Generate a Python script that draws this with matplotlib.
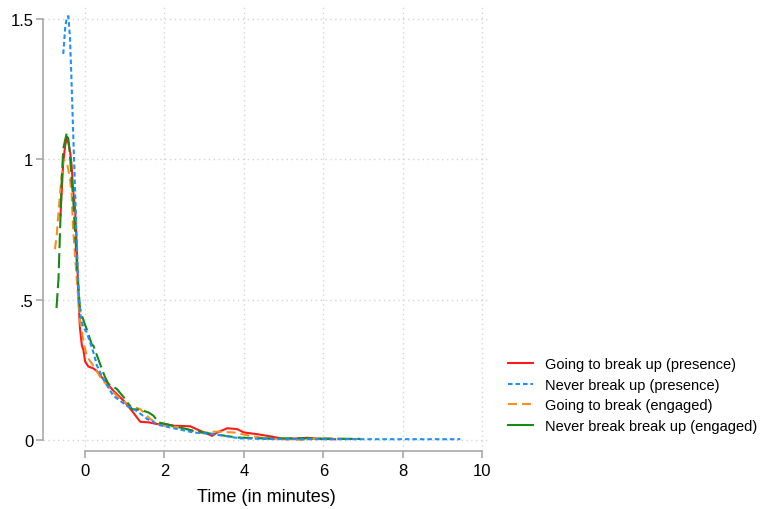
import matplotlib
matplotlib.use("Agg")
import matplotlib.pyplot as plt
from matplotlib.lines import Line2D

plt.rcParams["font.family"] = ["Liberation Sans", "DejaVu Sans"]

# Going to break up (presence)
red_x = [-0.62, -0.55, -0.5, -0.45, -0.38, -0.34, -0.3, -0.25, -0.21, -0.17, -0.13, -0.08,
         -0.04, 0.0, 0.08, 0.21, 0.3, 0.46, 0.71, 0.97, 1.18, 1.39, 1.6, 1.81, 1.98, 2.23,
         2.65, 2.9, 3.2, 3.33, 3.58, 3.83, 4.0, 4.33, 4.67, 5.0, 5.35, 5.6, 5.93, 6.3]
red_y = [0.80, 0.99, 1.05, 1.08, 1.03, 0.98, 0.89, 0.82, 0.69, 0.51, 0.40, 0.336,
         0.32, 0.28, 0.262, 0.255, 0.245, 0.217, 0.176, 0.14, 0.104, 0.065, 0.063, 0.057, 0.058, 0.051,
         0.049, 0.033, 0.015, 0.027, 0.042, 0.039, 0.027, 0.021, 0.013, 0.004, 0.006, 0.008, 0.004, 0.003]

# Never break up (presence)
blue_x = [-0.55, -0.5, -0.46, -0.42, -0.38, -0.34, -0.3, -0.25, -0.21, -0.17, -0.13, -0.08,
          -0.04, 0.04, 0.21, 0.3, 0.46, 0.71, 1.05, 1.3, 1.56, 1.89, 2.23, 2.73, 3.24, 3.9,
          4.5, 5.0, 6.0, 7.0, 8.0, 9.45]
blue_y = [1.375, 1.47, 1.506, 1.51, 1.43, 1.274, 1.095, 0.88, 0.70, 0.55, 0.456, 0.42,
          0.40, 0.384, 0.312, 0.265, 0.217, 0.158, 0.122, 0.104, 0.075, 0.053, 0.042, 0.027, 0.021, 0.006,
          0.004, 0.003, 0.003, 0.003, 0.003, 0.003]

# Going to break (engaged)
orange_x = [-0.76, -0.72, -0.67, -0.63, -0.55, -0.46, -0.38, -0.34, -0.3, -0.21, -0.13, -0.04,
            0.04, 0.13, 0.21, 0.38, 0.63, 0.88, 1.14, 1.39, 1.64, 1.89, 2.4, 2.9, 3.3, 3.75,
            4.17, 4.59, 5.0, 5.43, 6.0, 6.5, 6.94]
orange_y = [0.68, 0.72, 0.81, 0.88, 1.0, 0.99, 0.93, 0.88, 0.75, 0.574, 0.43, 0.35,
            0.30, 0.28, 0.265, 0.225, 0.182, 0.146, 0.122, 0.11, 0.075, 0.053, 0.045, 0.025, 0.03, 0.027,
            0.015, 0.004, 0.003, 0.001, 0.006, 0.004, 0.004]

# Never break break up (engaged)
green_x = [-0.72, -0.67, -0.63, -0.59, -0.55, -0.5, -0.46, -0.42, -0.38, -0.34, -0.3, -0.21,
           -0.13, -0.08, 0.0, 0.04, 0.17, 0.21, 0.38, 0.5, 0.59, 0.8, 1.01, 1.18, 1.39, 1.6,
           1.72, 1.85, 2.15, 2.73, 3.24, 3.83, 4.42, 5.43, 6.0, 6.94]
green_y = [0.47, 0.574, 0.75, 0.92, 1.037, 1.07, 1.094, 1.07, 1.013, 0.93, 0.86, 0.634,
           0.47, 0.443, 0.41, 0.395, 0.34, 0.336, 0.27, 0.225, 0.2, 0.182, 0.146, 0.11, 0.108, 0.098,
           0.087, 0.063, 0.053, 0.033, 0.021, 0.009, 0.006, 0.006, 0.005, 0.004]

labels = ["Going to break up (presence)", "Never break up (presence)",
          "Going to break (engaged)", "Never break break up (engaged)"]
colors = ["#ff1a1a", "#1e8fff", "#ff8c1a", "#158a15"]

x_ticks = [0, 2, 4, 6, 8, 10]
y_ticks = [0, 0.5, 1, 1.5]
y_tick_labels = ["0", ".5", "1", "1.5"]

fig = plt.figure(figsize=(7.63, 5.10), dpi=100)
ax = fig.add_axes([43 / 763, 1 - 452 / 510, 447 / 763, 447 / 510])

lw = 1.5
ax.plot(red_x, red_y, color=colors[0], lw=lw, linestyle="-", zorder=3)
ax.plot(blue_x, blue_y, color=colors[1], lw=lw, linestyle=(0, (2.2, 1.4)), zorder=4)
ax.plot(orange_x, orange_y, color=colors[2], lw=lw, linestyle=(0, (4.3, 2.4)), zorder=3)
ax.plot(green_x, green_y, color=colors[3], lw=lw, linestyle=(0, (7.2, 2.4)), zorder=3)

ax.set_xlim(-1.06, 10.2)
ax.set_ylim(-0.039, 1.553)
ax.set_xticks(x_ticks)
ax.set_yticks(y_ticks)
ax.set_yticklabels(y_tick_labels)

for side in ["top", "right"]:
    ax.spines[side].set_visible(False)
ax.spines["left"].set_bounds(0, 1.5)
ax.spines["bottom"].set_bounds(0, 10)
for side in ["left", "bottom"]:
    ax.spines[side].set_color("#a8a8a8")
    ax.spines[side].set_linewidth(1.2)

ax.tick_params(axis="both", colors="#a8a8a8", labelcolor="black", labelsize=12,
               length=5, width=1.2)
ax.tick_params(axis="y", pad=2)
ax.grid(True, color="#d4d4d4", linestyle=(0, (1, 2.5)), linewidth=1.0)
ax.set_axisbelow(True)

ax.set_xlabel("Time (in minutes)", fontsize=13, labelpad=7)

handles = [
    Line2D([], [], color=colors[0], lw=lw, linestyle="-"),
    Line2D([], [], color=colors[1], lw=lw, linestyle=(0, (2.2, 1.4))),
    Line2D([], [], color=colors[2], lw=lw, linestyle=(0, (4.3, 2.4))),
    Line2D([], [], color=colors[3], lw=lw, linestyle="-"),
]
fig.legend(handles, labels, loc="center left", bbox_to_anchor=(508 / 763, 1 - 396 / 510),
           frameon=False, fontsize=10.5, handlelength=1.7, handletextpad=0.85,
           labelspacing=0.45, borderpad=0, borderaxespad=0)

fig.savefig("out.png", dpi=100)
plt.close(fig)
